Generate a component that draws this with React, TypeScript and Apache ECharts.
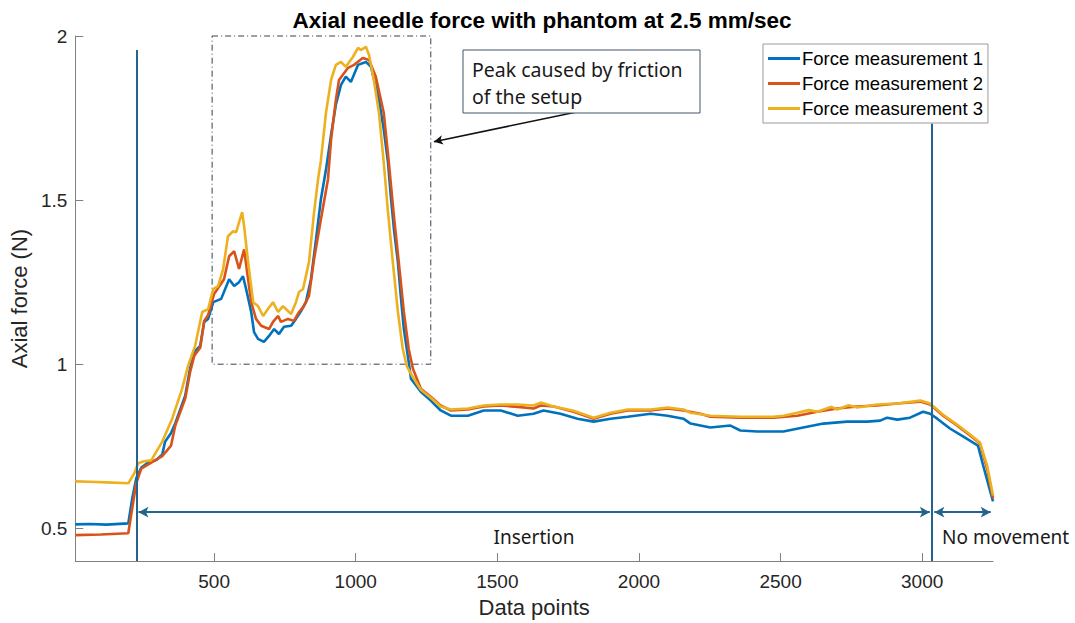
import React, { useEffect, useRef } from 'react';
import * as echarts from 'echarts';

// ---- data ----
const m1X = [10, 60, 120, 197, 211, 225, 243, 267, 296, 317, 327, 348, 363, 398, 415, 430, 451, 465, 479, 497, 525, 553, 571, 588, 602, 613, 631, 641, 655, 676, 694, 712, 729, 747, 772, 789, 807, 824, 842, 860, 877, 895, 913, 930, 948, 965, 983, 1008, 1036, 1054, 1082, 1099, 1114, 1124, 1135, 1149, 1159, 1170, 1187, 1195, 1230, 1265, 1300, 1336, 1396, 1452, 1512, 1572, 1628, 1663, 1723, 1783, 1840, 1900, 1960, 2041, 2101, 2157, 2182, 2252, 2323, 2358, 2418, 2510, 2580, 2651, 2735, 2806, 2852, 2876, 2912, 2957, 3003, 3028, 3053, 3098, 3144, 3197, 3215, 3250];
const m1Y = [0.512, 0.513, 0.511, 0.515, 0.591, 0.652, 0.685, 0.7, 0.708, 0.725, 0.764, 0.79, 0.82, 0.904, 0.986, 1.038, 1.056, 1.129, 1.138, 1.189, 1.199, 1.259, 1.238, 1.25, 1.268, 1.229, 1.159, 1.098, 1.077, 1.068, 1.086, 1.107, 1.092, 1.114, 1.117, 1.138, 1.162, 1.189, 1.259, 1.381, 1.502, 1.593, 1.699, 1.791, 1.851, 1.876, 1.86, 1.912, 1.921, 1.906, 1.806, 1.715, 1.614, 1.511, 1.411, 1.311, 1.208, 1.107, 1.007, 0.956, 0.916, 0.889, 0.859, 0.843, 0.843, 0.859, 0.859, 0.843, 0.849, 0.859, 0.849, 0.834, 0.825, 0.834, 0.84, 0.849, 0.843, 0.834, 0.819, 0.807, 0.813, 0.798, 0.795, 0.795, 0.807, 0.819, 0.825, 0.825, 0.828, 0.837, 0.831, 0.837, 0.855, 0.849, 0.834, 0.804, 0.78, 0.752, 0.692, 0.582];

const m2X = [10, 100, 197, 211, 225, 243, 278, 317, 348, 363, 398, 415, 430, 451, 465, 479, 500, 535, 553, 571, 588, 606, 620, 631, 648, 666, 694, 708, 726, 736, 761, 782, 800, 817, 835, 853, 877, 902, 913, 930, 941, 973, 994, 1025, 1047, 1071, 1099, 1117, 1135, 1152, 1170, 1187, 1202, 1230, 1265, 1300, 1336, 1396, 1452, 1512, 1572, 1628, 1653, 1699, 1769, 1840, 1900, 1960, 2041, 2101, 2157, 2217, 2252, 2358, 2474, 2559, 2630, 2700, 2771, 2841, 2912, 2993, 3028, 3074, 3123, 3169, 3204, 3229, 3250];
const m2Y = [0.479, 0.481, 0.485, 0.561, 0.637, 0.682, 0.7, 0.72, 0.752, 0.813, 0.895, 0.975, 1.026, 1.05, 1.132, 1.15, 1.214, 1.259, 1.329, 1.344, 1.29, 1.35, 1.259, 1.189, 1.138, 1.117, 1.107, 1.129, 1.147, 1.129, 1.138, 1.132, 1.159, 1.177, 1.208, 1.32, 1.441, 1.563, 1.684, 1.806, 1.866, 1.903, 1.912, 1.933, 1.927, 1.876, 1.766, 1.614, 1.45, 1.311, 1.159, 1.047, 0.986, 0.925, 0.901, 0.874, 0.859, 0.862, 0.871, 0.874, 0.87, 0.865, 0.874, 0.871, 0.855, 0.834, 0.849, 0.859, 0.859, 0.865, 0.859, 0.849, 0.84, 0.837, 0.837, 0.843, 0.855, 0.865, 0.871, 0.874, 0.88, 0.886, 0.877, 0.843, 0.813, 0.783, 0.758, 0.682, 0.591];

const m3X = [10, 60, 120, 197, 218, 232, 253, 278, 317, 352, 387, 408, 433, 458, 479, 497, 514, 532, 549, 567, 578, 588, 599, 606, 620, 638, 655, 673, 690, 708, 726, 743, 761, 772, 789, 800, 814, 835, 853, 867, 877, 895, 913, 930, 948, 965, 990, 1008, 1018, 1036, 1047, 1064, 1082, 1099, 1114, 1131, 1149, 1166, 1180, 1202, 1230, 1265, 1300, 1336, 1396, 1452, 1512, 1572, 1628, 1653, 1699, 1769, 1840, 1900, 1960, 2041, 2101, 2157, 2182, 2252, 2358, 2474, 2510, 2559, 2600, 2630, 2680, 2700, 2740, 2771, 2841, 2912, 2993, 3028, 3074, 3123, 3169, 3204, 3229, 3250];
const m3Y = [0.643, 0.642, 0.64, 0.637, 0.667, 0.698, 0.704, 0.707, 0.764, 0.834, 0.925, 0.995, 1.056, 1.159, 1.168, 1.229, 1.238, 1.29, 1.39, 1.405, 1.402, 1.432, 1.463, 1.42, 1.311, 1.189, 1.177, 1.147, 1.168, 1.189, 1.159, 1.177, 1.162, 1.153, 1.189, 1.22, 1.229, 1.311, 1.463, 1.563, 1.62, 1.766, 1.866, 1.912, 1.921, 1.906, 1.936, 1.964, 1.957, 1.967, 1.942, 1.866, 1.766, 1.614, 1.463, 1.311, 1.159, 1.047, 0.995, 0.96, 0.922, 0.898, 0.871, 0.862, 0.865, 0.874, 0.877, 0.877, 0.874, 0.883, 0.871, 0.858, 0.837, 0.852, 0.862, 0.862, 0.868, 0.862, 0.852, 0.843, 0.84, 0.84, 0.843, 0.852, 0.86, 0.855, 0.87, 0.862, 0.875, 0.868, 0.877, 0.88, 0.889, 0.88, 0.846, 0.816, 0.786, 0.761, 0.692, 0.6];

const seriesNames = ['Force measurement 1', 'Force measurement 2', 'Force measurement 3'];
const seriesColors = ['#0072BD', '#D95319', '#EDB120'];
const xTicks = [500, 1000, 1500, 2000, 2500, 3000];
const yTicks = [0.5, 1, 1.5, 2];

// annotation anchors in data units
const phaseStart = 227;
const phaseSplit = 3035;
const phaseEnd = 3246;
const arrowY = 0.549;
const peakBox = { x0: 493, x1: 1265, y0: 1.0, y1: 2.0 };

const zip = (xs: number[], ys: number[]) => xs.map((x, i) => [x, ys[i]]);

const FONT = '"Liberation Sans", Arial, Helvetica, sans-serif';
const NOTE_FONT = '"Noto Sans", "Open Sans", sans-serif';
const TEAL = '#22648c';

export default function App() {
  const ref = useRef<HTMLDivElement>(null);
  useEffect(() => {
    if (!ref.current) return;
    const chart = echarts.init(ref.current, null, { renderer: 'svg' });
    const data = [zip(m1X, m1Y), zip(m2X, m2Y), zip(m3X, m3Y)];
    const series: any[] = data.map((d, i) => ({
      type: 'line',
      name: seriesNames[i],
      data: d,
      showSymbol: false,
      symbol: 'none',
      lineStyle: { color: seriesColors[i], width: 2.6 },
      itemStyle: { color: seriesColors[i] },
      z: 2 + i,
    }));
    series[0].markLine = {
      silent: true,
      animation: false,
      label: { show: false },
      data: [
        [
          { coord: [phaseStart, 1.957], symbol: 'none', lineStyle: { color: TEAL, width: 2, type: 'solid' } },
          { coord: [phaseStart, 0.4], symbol: 'none' },
        ],
        [
          { coord: [phaseSplit, 1.733], symbol: 'none', lineStyle: { color: TEAL, width: 2, type: 'solid' } },
          { coord: [phaseSplit, 0.4], symbol: 'none' },
        ],
        [
          { coord: [phaseStart + 6, arrowY], symbol: 'arrow', symbolSize: [8, 10], lineStyle: { color: TEAL, width: 2, type: 'solid' } },
          { coord: [phaseSplit - 8, arrowY], symbol: 'arrow', symbolSize: [8, 10] },
        ],
        [
          { coord: [phaseSplit + 8, arrowY], symbol: 'arrow', symbolSize: [8, 10], lineStyle: { color: TEAL, width: 2, type: 'solid' } },
          { coord: [phaseEnd - 4, arrowY], symbol: 'arrow', symbolSize: [8, 10] },
        ],
        [
          { coord: [1801, 1.772], symbol: 'none', lineStyle: { color: '#111', width: 1.5, type: 'solid' } },
          { coord: [1276, 1.678], symbol: 'arrow', symbolSize: [7, 9] },
        ],
      ],
    };
    series[0].markArea = {
      silent: true,
      itemStyle: {
        color: 'rgba(0,0,0,0)',
        borderColor: '#34424f',
        borderWidth: 1,
        borderType: [6, 3, 1, 3],
      },
      label: { show: false },
      data: [[{ coord: [peakBox.x0, peakBox.y1] }, { coord: [peakBox.x1, peakBox.y0] }]],
    };

    chart.setOption({
      animation: false,
      backgroundColor: '#ffffff',
      title: {
        text: 'Axial needle force with phantom at 2.5 mm/sec',
        left: 537,
        textAlign: 'center',
        top: 4,
        textStyle: { fontFamily: FONT, fontSize: 22.5, fontWeight: 'bold', color: '#000' },
      },
      grid: { left: 74, top: 36, width: 919, height: 527, containLabel: false },
      xAxis: {
        type: 'value',
        min: 10,
        max: 3250,
        name: 'Data points',
        nameLocation: 'middle',
        nameGap: 33,
        nameTextStyle: { fontFamily: FONT, fontSize: 22, color: '#262626' },
        axisLine: { show: true, lineStyle: { color: '#808080', width: 1 } },
        axisTick: { show: true, inside: true, length: 8, customValues: xTicks, lineStyle: { color: '#808080' } },
        axisLabel: {
          customValues: xTicks,
          formatter: (v: number) => String(v),
          fontFamily: FONT,
          fontSize: 19,
          color: '#262626',
          margin: 11,
        },
        splitLine: { show: false },
      },
      yAxis: {
        type: 'value',
        min: 0.4,
        max: 2,
        name: 'Axial force (N)',
        nameLocation: 'middle',
        nameGap: 40,
        nameTextStyle: { fontFamily: FONT, fontSize: 22, color: '#262626' },
        axisLine: { show: true, lineStyle: { color: '#808080', width: 1 } },
        axisTick: { show: true, inside: true, length: 8, customValues: yTicks, lineStyle: { color: '#808080' } },
        axisLabel: {
          customValues: yTicks,
          formatter: (v: number) => String(v),
          fontFamily: FONT,
          fontSize: 19,
          color: '#262626',
          margin: 8,
        },
        splitLine: { show: false },
      },
      legend: {
        orient: 'vertical',
        left: 763,
        top: 44,
        padding: [5, 5, 5, 5],
        itemGap: 6,
        itemWidth: 32,
        itemHeight: 3,
        icon: 'rect',
        borderColor: '#9a9a9a',
        borderWidth: 1,
        backgroundColor: '#fff',
        textStyle: { fontFamily: FONT, fontSize: 18.5, color: '#000', lineHeight: 18, padding: [0, 0, 0, -3] },
        data: seriesNames,
      },
      graphic: [
        {
          type: 'rect',
          shape: { x: 463, y: 50, width: 237, height: 63 },
          style: { fill: '#fff', stroke: '#44546a', lineWidth: 1 },
          z: 10,
        },
        {
          type: 'text',
          x: 472,
          y: 56,
          style: {
            text: 'Peak caused by friction\nof the setup',
            font: `19.5px ${NOTE_FONT}`,
            lineHeight: 27,
            fill: '#1a1a1a',
          },
          z: 11,
        },
        {
          type: 'text',
          x: 534,
          y: 537,
          style: { text: 'Insertion', font: `19px ${NOTE_FONT}`, fill: '#1a1a1a', align: 'center', verticalAlign: 'middle' },
          z: 11,
        },
        {
          type: 'text',
          x: 942,
          y: 537,
          style: { text: 'No movement', font: `19px ${NOTE_FONT}`, fill: '#1a1a1a', align: 'left', verticalAlign: 'middle' },
          z: 11,
        },
      ],
      series,
    });
    return () => chart.dispose();
  }, []);
  return <div ref={ref} style={{ position: 'fixed', left: 0, top: 0, width: 1075, height: 623 }} />;
}
